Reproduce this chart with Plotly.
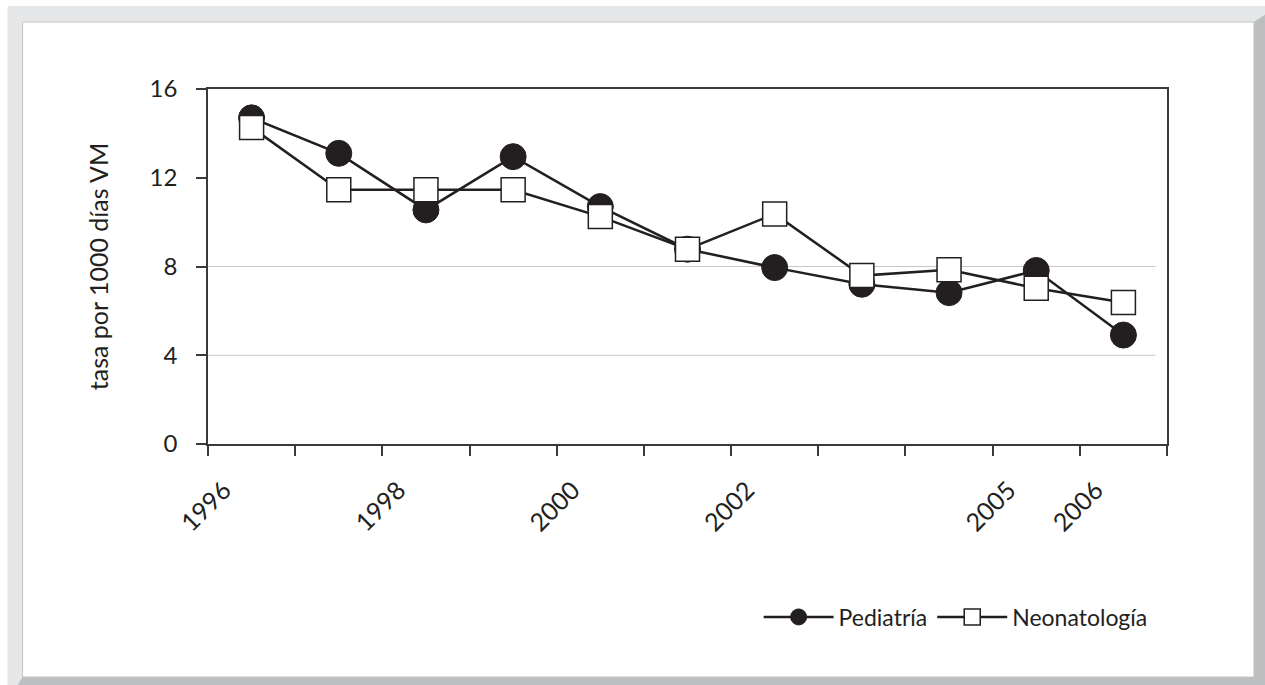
import plotly.graph_objects as go

# ---- data ----
years = [1996, 1997, 1998, 1999, 2000, 2001, 2002, 2003, 2004, 2005, 2006]
pediatria = [14.7, 13.1, 10.55, 12.95, 10.7, 8.78, 7.95, 7.2, 6.82, 7.82, 4.91]
neonatologia = [14.27, 11.46, 11.46, 11.46, 10.25, 8.78, 10.37, 7.59, 7.85, 7.02, 6.38]
tick_labels = ["1996", "", "1998", "", "2000", "", "2002", "", "", "2005", "2006", ""]
y_ticks = [0, 4, 8, 12, 16]
grid_values = [4, 8]

INK = "#231f20"
AXIS = "#3a3a3a"
FONT = "Lato, 'Open Sans', sans-serif"

# plot area in pixels (for frame decoration)
W_PX, H_PX = 1265, 685
L, R, T, B = 207.5, 1167, 89, 444


def px(xp):
    return (xp - L) / (R - L)


def py(yp):
    return (B - yp) / (B - T)


fig = go.Figure()
fig.add_trace(go.Scatter(
    x=years, y=pediatria, name="Pediatría", mode="lines+markers",
    line=dict(color=INK, width=2.5),
    marker=dict(symbol="circle", size=26, color=INK, line=dict(color=INK, width=1)),
))
fig.add_trace(go.Scatter(
    x=years, y=neonatologia, name="Neonatología", mode="lines+markers",
    line=dict(color=INK, width=2.5),
    marker=dict(symbol="square", size=24, color="white", line=dict(color=INK, width=1.5)),
))

boundaries = [y - 0.5 for y in years] + [years[-1] + 0.5]

# frame decoration
shapes = [
    dict(type="rect", xref="paper", yref="paper", layer="below",
         x0=px(7), x1=px(W_PX + 5), y0=py(6), y1=py(H_PX + 5),
         fillcolor="#e6e7e8", line=dict(width=0)),
    dict(type="path", xref="paper", yref="paper", layer="below",
         path="M {a},{b} L {c},{d} L {c},{e} L {f},{e} L {g},{h} L {i},{h} Z".format(
             a=px(1254), b=py(22), c=px(W_PX + 5), d=py(11),
             e=py(H_PX + 5), f=px(14), g=px(22), h=py(677), i=px(1254)),
         fillcolor="#bcbec0", line=dict(width=0)),
    dict(type="rect", xref="paper", yref="paper", layer="below",
         x0=px(22), x1=px(1254), y0=py(22), y1=py(677),
         fillcolor="white", line=dict(color="#c4c4c4", width=1)),
]
# horizontal gridlines only at selected values
for gv in grid_values:
    shapes.append(dict(type="line", xref="paper", yref="y", layer="below",
                       x0=0, x1=0.988, y0=gv, y1=gv,
                       line=dict(color="#c8c8c8", width=1.2)))

fig.update_layout(
    width=W_PX, height=H_PX,
    margin=dict(l=L, r=W_PX - R, t=T, b=H_PX - B, pad=0),
    paper_bgcolor="white",
    plot_bgcolor="rgba(0,0,0,0)",
    font=dict(family=FONT, size=24, color=INK),
    shapes=shapes,
    showlegend=True,
    legend=dict(orientation="h", x=0.985, xanchor="right",
                y=py(617), yanchor="middle", itemwidth=70,
                font=dict(size=23, color=INK), bgcolor="rgba(0,0,0,0)"),
    xaxis=dict(
        range=[boundaries[0], boundaries[-1]],
        tickmode="array", tickvals=boundaries, ticktext=tick_labels,
        tickangle=-45, ticks="outside", ticklen=10, tickwidth=1.5, tickcolor=AXIS,
        showline=True, linecolor=AXIS, linewidth=1.5, mirror=True,
        showgrid=False, zeroline=False,
        tickfont=dict(size=25, color=INK),
        ticklabelshift=16, ticklabelstandoff=10,
    ),
    yaxis=dict(
        range=[0, 16], tickmode="array", tickvals=y_ticks,
        ticks="outside", ticklen=10, tickwidth=1.5, tickcolor=AXIS,
        showline=True, linecolor=AXIS, linewidth=1.5, mirror=True,
        showgrid=False, zeroline=False,
        tickfont=dict(size=24, color=INK),
        ticklabelstandoff=14,
        title=dict(text="tasa por 1000 días VM", font=dict(size=25, color=INK), standoff=34),
    ),
)

fig.write_html("out.html", config={"displayModeBar": False},
               post_script="document.body.style.margin='0';")
